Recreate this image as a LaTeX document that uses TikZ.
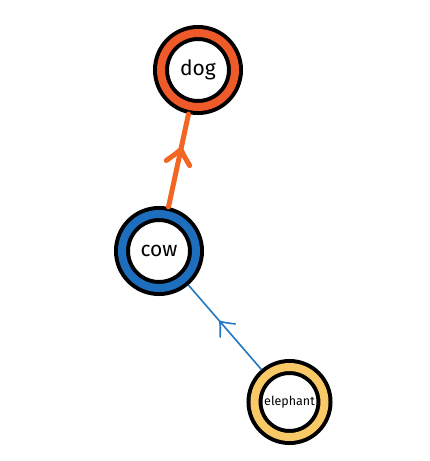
\documentclass[tikz,border=0pt]{standalone}
\usepackage{fontspec}
\setmainfont{Fira Sans}
\usetikzlibrary{decorations.markings}
\definecolor{dogc}{HTML}{EE5A2A}
\definecolor{cowc}{HTML}{1D6FBD}
\definecolor{elec}{HTML}{F9C867}
\definecolor{orl}{HTML}{F26522}
\definecolor{bll}{HTML}{2378C4}
\tikzset{
  ring/.style={circle, draw=black, line width=4pt, double=#1, double distance=8pt,
    fill=white, minimum size=74pt, inner sep=0pt, outer sep=8pt},
  barb/.style n args={3}{postaction={decorate}, decoration={markings,
    mark=at position #1 with {\draw[line cap=round, line join=round]
      (-#2,-#3) .. controls (-0.3*#2,-0.25*#3) .. (0pt,0pt)
      .. controls (-0.3*#2,0.25*#3) .. (-#2,#3);}}},
}
\begin{document}
\begin{tikzpicture}[x=1pt,y=-1pt]
\useasboundingbox (0,0) rectangle (429,461);
\fill[white] (0,0) rectangle (429,461);
\node[ring=dogc, font=\fontsize{21}{23}\selectfont] (dog) at (198,70) {dog};
\node[ring=cowc, font=\fontsize{21}{23}\selectfont] (cow) at (159,251) {cow};
\node[ring=elec, minimum size=70pt, font=\fontsize{12.5}{14}\selectfont] (ele) at (289.5,402) {elephant};
\draw[orl, line width=5pt, line cap=round,
  barb={0.62}{14pt}{12pt}] (cow) -- (dog);
\draw[bll, line width=1.6pt,
  barb={0.57}{12pt}{10pt}] (ele) -- (cow);
\end{tikzpicture}
\end{document}
